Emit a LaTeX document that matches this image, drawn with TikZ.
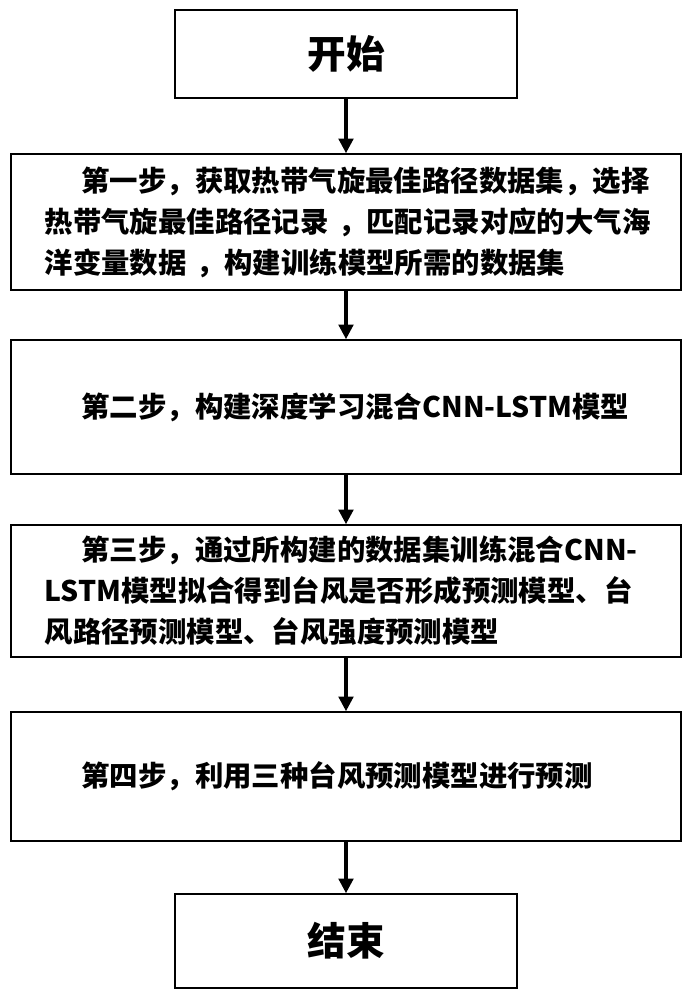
\documentclass[tikz,border=0pt]{standalone}
\usepackage{fontspec}
\setmainfont{Noto Sans CJK SC}
\usetikzlibrary{arrows.meta}

\tikzset{
  stepbox/.style={draw, line width=1.2pt, text width=452pt, inner xsep=25.25pt, align=left, font=\bfseries\fontsize{21.3}{30.75}\selectfont},
  termbox/.style={draw, line width=1.2pt, minimum width=256.5pt, minimum height=66pt, font=\bfseries\fontsize{29}{34}\selectfont},
  flow/.style={line width=2.4pt, -{Triangle[width=11pt,length=11pt]}}
}

\begin{document}
\begin{tikzpicture}[x=0.75pt,y=0.75pt,yscale=-1,xscale=1]
\useasboundingbox (0,0) rectangle (693,1000);

%Shape: Rectangle [start]
\node[termbox] (start) at (346,54) {开始};
%Shape: Rectangle [step 1]
\node[stepbox, minimum height=102pt] (step1) at (346,222) {\hspace*{1.3em}第一步，获取热带气旋最佳路径数据集，选择\\热带气旋最佳路径记录~，匹配记录对应的大气海\\洋变量数据~，构建训练模型所需的数据集};
%Shape: Rectangle [step 2]
\node[stepbox, minimum height=100.5pt] (step2) at (346,407) {\hspace*{1.3em}第二步，构建深度学习混合CNN-LSTM模型};
%Shape: Rectangle [step 3]
\node[stepbox, minimum height=99pt] (step3) at (346,591) {\hspace*{1.3em}第三步，通过所构建的数据集训练混合CNN-\\LSTM模型拟合得到台风是否形成预测模型、台\\风路径预测模型、台风强度预测模型};
%Shape: Rectangle [step 4]
\node[stepbox, minimum height=96.75pt] (step4) at (346,776.5) {\hspace*{1.3em}第四步，利用三种台风预测模型进行预测};
%Shape: Rectangle [end]
\node[termbox, minimum height=70.5pt] (stop) at (346,941) {结束};

%Straight Lines [arrows]
\draw[flow] (start) -- (step1);
\draw[flow] (step1) -- (step2);
\draw[flow] (step2) -- (step3);
\draw[flow] (step3) -- (step4);
\draw[flow] (step4) -- (stop);

\end{tikzpicture}
\end{document}
